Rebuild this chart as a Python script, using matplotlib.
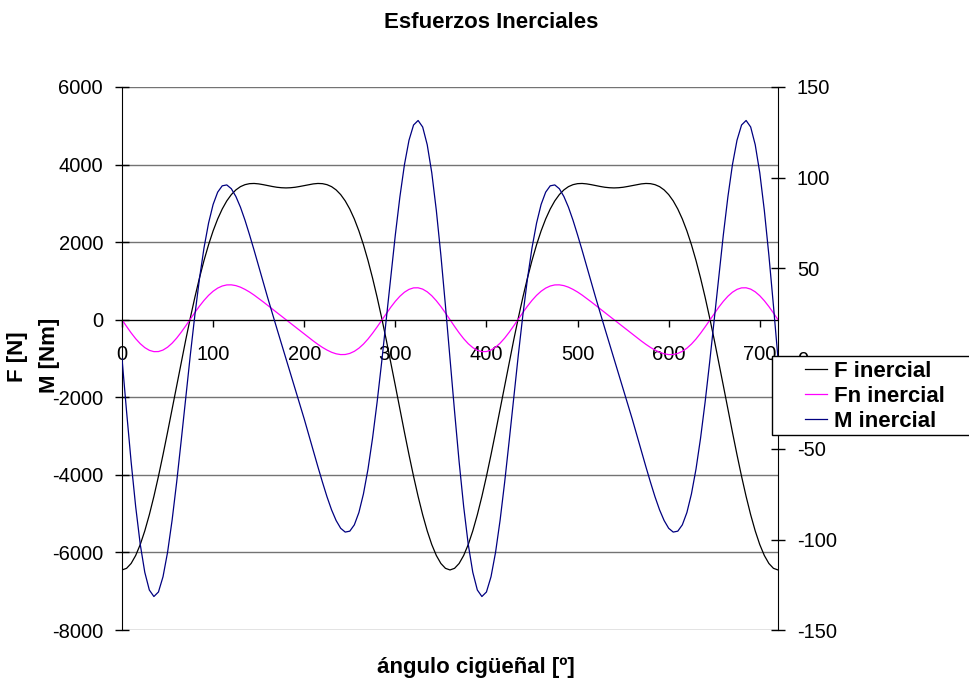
import numpy as np
import matplotlib
matplotlib.use('Agg')
import matplotlib.pyplot as plt
from matplotlib.patches import Rectangle

plt.rcParams['font.family'] = ['Liberation Sans', 'DejaVu Sans']
plt.rcParams['axes.unicode_minus'] = False

## crank angle grid, every 5 degrees over two revolutions
ANGLE = np.arange(0, 725, 5)

## inertial force [N] (left axis)
F_INERCIAL = [
    -6452, -6410, -6285, -6079, -5798, -5445, -5028, -4556, -4038, -3482, -2901, -2303,
    -1699, -1100, -515, 48, 580, 1074, 1527, 1933, 2290, 2597, 2854, 3063,
    3226, 3347, 3431, 3482, 3508, 3513, 3502, 3482, 3458, 3435, 3415, 3403,
    3398, 3403, 3415, 3435, 3458, 3482, 3502, 3513, 3508, 3482, 3431, 3347,
    3226, 3063, 2854, 2597, 2290, 1933, 1527, 1074, 580, 48, -515, -1100,
    -1699, -2303, -2901, -3482, -4038, -4556, -5028, -5445, -5798, -6079, -6285, -6410,
    -6452, -6410, -6285, -6079, -5798, -5445, -5028, -4556, -4038, -3482, -2901, -2303,
    -1699, -1100, -515, 48, 580, 1074, 1527, 1933, 2290, 2597, 2854, 3063,
    3226, 3347, 3431, 3482, 3508, 3513, 3502, 3482, 3458, 3435, 3415, 3403,
    3398, 3403, 3415, 3435, 3458, 3482, 3502, 3513, 3508, 3482, 3431, 3347,
    3226, 3063, 2854, 2597, 2290, 1933, 1527, 1074, 580, 48, -515, -1100,
    -1699, -2303, -2901, -3482, -4038, -4556, -5028, -5445, -5798, -6079, -6285, -6410,
    -6452]

## normal force [N] (left axis)
FN_INERCIAL = [
    0, -173, -339, -489, -618, -719, -789, -823, -821, -782, -709, -605,
    -474, -322, -157, 15, 186, 349, 498, 628, 734, 815, 869, 897,
    899, 879, 839, 782, 714, 635, 549, 460, 369, 277, 184, 92,
    0, -92, -184, -277, -369, -460, -549, -635, -714, -782, -839, -879,
    -899, -897, -869, -815, -734, -628, -498, -349, -186, -15, 157, 322,
    474, 605, 709, 782, 821, 823, 789, 719, 618, 489, 339, 173,
    0, -173, -339, -489, -618, -719, -789, -823, -821, -782, -709, -605,
    -474, -322, -157, 15, 186, 349, 498, 628, 734, 815, 869, 897,
    899, 879, 839, 782, 714, 635, 549, 460, 369, 277, 184, 92,
    0, -92, -184, -277, -369, -460, -549, -635, -714, -782, -839, -879,
    -899, -897, -869, -815, -734, -628, -498, -349, -186, -15, 157, 322,
    474, 605, 709, 782, 821, 823, 789, 719, 618, 489, 339, 173,
    0]

## inertial torque [Nm] (right axis)
M_INERCIAL = [
    0, -29.2, -57.0, -81.8, -102.6, -118.1, -127.9, -131.5, -129.0, -120.6, -107.1, -89.3,
    -68.3, -45.3, -21.5, 2.0, 24.1, 44.0, 61.1, 74.8, 85.1, 91.9, 95.4, 95.9,
    93.8, 89.5, 83.6, 76.4, 68.3, 59.8, 51.0, 42.2, 33.4, 24.9, 16.5, 8.2,
    0, -8.2, -16.5, -24.9, -33.4, -42.2, -51.0, -59.8, -68.3, -76.4, -83.6, -89.5,
    -93.8, -95.9, -95.4, -91.9, -85.1, -74.8, -61.1, -44.0, -24.1, -2.0, 21.5, 45.3,
    68.3, 89.3, 107.1, 120.6, 129.0, 131.5, 127.9, 118.1, 102.6, 81.8, 57.0, 29.2,
    0, -29.2, -57.0, -81.8, -102.6, -118.1, -127.9, -131.5, -129.0, -120.6, -107.1, -89.3,
    -68.3, -45.3, -21.5, 2.0, 24.1, 44.0, 61.1, 74.8, 85.1, 91.9, 95.4, 95.9,
    93.8, 89.5, 83.6, 76.4, 68.3, 59.8, 51.0, 42.2, 33.4, 24.9, 16.5, 8.2,
    0, -8.2, -16.5, -24.9, -33.4, -42.2, -51.0, -59.8, -68.3, -76.4, -83.6, -89.5,
    -93.8, -95.9, -95.4, -91.9, -85.1, -74.8, -61.1, -44.0, -24.1, -2.0, 21.5, 45.3,
    68.3, 89.3, 107.1, 120.6, 129.0, 131.5, 127.9, 118.1, 102.6, 81.8, 57.0, 29.2,
    0]

W, H = 970, 684
TICK_FS = 14.5
LABEL_FS = 16

fig = plt.figure(figsize=(W / 100, H / 100), dpi=100)
ax = fig.add_axes([122 / W, 1 - 630 / H, (778 - 122) / W, (630 - 87) / H])
ax2 = ax.twinx()

l1, = ax.plot(ANGLE, F_INERCIAL, color='black', lw=0.9, label='F inercial')
l2, = ax.plot(ANGLE, FN_INERCIAL, color='#ff00ff', lw=0.9, label='Fn inercial')
l3, = ax2.plot(ANGLE, M_INERCIAL, color='#000080', lw=0.9, label='M inercial')

# primary axis: forces
ax.set_xlim(0, 720)
ax.set_ylim(-8000, 6000)
ax.set_xticks(np.arange(0, 701, 100))
ax.set_yticks(np.arange(-8000, 6001, 2000))
ax.yaxis.grid(True, color='0.45', lw=1)
ax.set_axisbelow(True)
ax.spines['top'].set_visible(False)
ax.spines['right'].set_visible(False)
ax.spines['bottom'].set_position(('data', 0))
ax.spines['bottom'].set_zorder(3)
ax.tick_params(axis='y', direction='inout', length=10, width=1, pad=8.6,
               labelsize=TICK_FS)
ax.tick_params(axis='x', direction='out', length=5, width=1, pad=13.5,
               labelsize=TICK_FS)

# secondary axis: torque
ax2.set_ylim(-150, 150)
ax2.set_yticks(np.arange(-150, 151, 50))
for s in ['top', 'bottom', 'left']:
    ax2.spines[s].set_visible(False)
ax2.tick_params(axis='y', direction='inout', length=10, width=1, pad=8.6,
                labelsize=TICK_FS)

# titles and axis names
fig.text(491 / W, 1 - 23 / H, 'Esfuerzos Inerciales', ha='center', va='center',
         fontsize=LABEL_FS, fontweight='bold')
fig.text(476 / W, 1 - 668 / H, 'ángulo cigüeñal [º]', ha='center', va='center',
         fontsize=LABEL_FS, fontweight='bold')
fig.text(18 / W, 1 - 357 / H, 'F [N]', ha='center', va='center', rotation=90,
         fontsize=LABEL_FS, fontweight='bold')
fig.text(50 / W, 1 - 355 / H, 'M [Nm]', ha='center', va='center', rotation=90,
         fontsize=LABEL_FS, fontweight='bold')

# legend box sticks out past the right edge, as in the original
box = Rectangle((772 / W, 1 - 435 / H), 0.3, 79 / H, transform=fig.transFigure,
                facecolor='white', edgecolor='black', lw=1, zorder=5, clip_on=False)
fig.add_artist(box)
leg = fig.legend(handles=[l1, l2, l3], loc='upper left',
                 bbox_to_anchor=(805 / W, 1 - 361 / H), bbox_transform=fig.transFigure,
                 frameon=False, borderpad=0, borderaxespad=0, handlelength=1.0,
                 handletextpad=0.3, labelspacing=0.17,
                 prop={'size': LABEL_FS, 'weight': 'bold'})
leg.set_zorder(6)

fig.savefig('out.png', dpi=100)
